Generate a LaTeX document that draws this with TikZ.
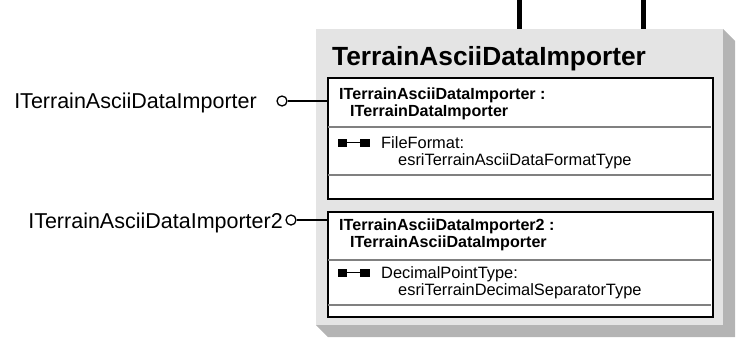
\documentclass[tikz,border=0pt]{standalone}
\usepackage{fontspec}
\setmainfont{Liberation Sans}
\definecolor{classgray}{HTML}{E4E4E4}
\definecolor{shadowgray}{HTML}{B4B4B4}
\definecolor{rulegray}{HTML}{808080}
\begin{document}
\begin{tikzpicture}[x=1pt, y=-1pt, line join=miter]
	\tikzset{lbl/.style={font=\fontsize{21.5}{25}\selectfont, anchor=base east, inner sep=0},
		lollipop/.style={circle, draw, line width=1.3pt, fill=white, minimum size=10pt, inner sep=0},
		iface/.style={draw, line width=1.8pt, fill=white, anchor=north west, inner sep=0, minimum width=385pt},
		hd/.style={font=\bfseries\fontsize{16.1}{17}\selectfont, anchor=base west, inner sep=0},
		att/.style={font=\fontsize{16.4}{17}\selectfont, anchor=base west, inner sep=0},
		divider/.style={rulegray, line width=1.4pt},
		prop/.pic={\fill (-16,-4.5) rectangle (-7,4); \fill (6,-4.5) rectangle (16,4);
			\draw[line width=1.3pt] (-8,-0.3) -- (7,-0.3);}}
	\useasboundingbox (0,0) rectangle (745,338);
	% class body and its shadow
	\fill[shadowgray] (723,29) -- (735,41) -- (735,337) -- (328,337) -- (316,325) -- (723,325) -- cycle;
	\node[fill=classgray, anchor=north west, inner sep=0, minimum width=407pt, minimum height=296pt] (body) at (316,29) {};
	\coordinate (up1) at (519.5,0);
	\coordinate (up2) at (643,0);
	\draw[line width=5pt] (up1) -- (up1 |- body.north) (up2) -- (up2 |- body.north);
	\node[font=\bfseries\fontsize{26.3}{28}\selectfont, anchor=base west, inner sep=0] (title) at (332,65) {TerrainAsciiDataImporter};
	% first interface
	\node[iface, minimum height=121pt] (b1) at (327,77) {};
	\draw[divider] (328,127) -- (711,127) (328,175) -- (711,175);
	\node[hd] (h1) at (339,99) {ITerrainAsciiDataImporter :};
	\node[hd] (h1b) at (350,116) {ITerrainDataImporter};
	\pic at (354,143) {prop};
	\node[att] (a1) at (381,148) {FileFormat:};
	\node[att] (a1b) at (398,165) {esriTerrainAsciiDataFormatType};
	% second interface
	\node[iface, minimum height=105pt] (b2) at (327,211) {};
	\draw[divider] (328,260) -- (711,260) (328,305) -- (711,305);
	\node[hd] (h2) at (339,230) {ITerrainAsciiDataImporter2 :};
	\node[hd] (h2b) at (350,247) {ITerrainAsciiDataImporter};
	\pic at (354,273) {prop};
	\node[att] (a2) at (381,278) {DecimalPointType:};
	\node[att] (a2b) at (398,295) {esriTerrainDecimalSeparatorType};
	% lollipops
	\node[lollipop] (o1) at (282,101) {};
	\node[lollipop] (o2) at (291,220) {};
	\draw[line width=1.3pt] (o1) -- (o1 -| b1.west) (o2) -- (o2 -| b2.west);
	\node[lbl] (l1) at (257,108) {ITerrainAsciiDataImporter};
	\node[lbl] (l2) at (283,228) {ITerrainAsciiDataImporter2};
\end{tikzpicture}
\end{document}
